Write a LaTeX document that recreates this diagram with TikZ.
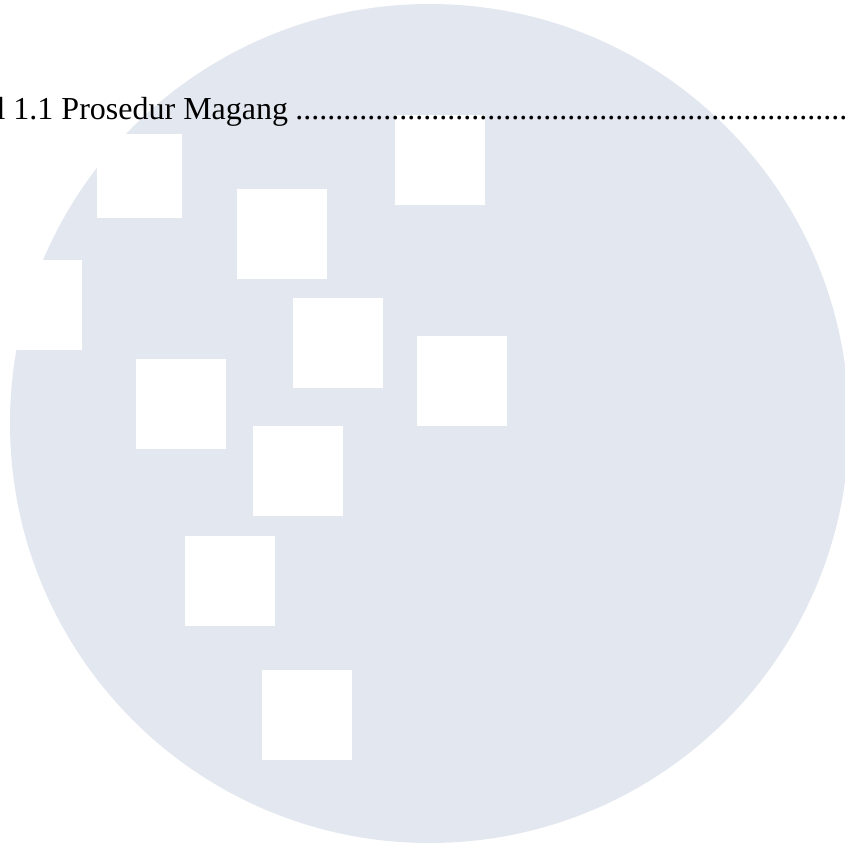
\documentclass[tikz,border=0pt]{standalone}
\usepackage{fontspec}
\setmainfont{Liberation Serif}
\definecolor{discgray}{HTML}{E3E8F0}
\tikzset{
  whitesq/.style={fill=white,draw=none},
  caption/.style={anchor=base west,inner sep=0pt,outer sep=0pt,text=black,font=\fontsize{32}{36}\selectfont}
}
\begin{document}
\begin{tikzpicture}[x=1pt,y=-1pt]
\useasboundingbox (0,0) rectangle (845,846);
\fill[white] (0,0) rectangle (845,846);
\fill[discgray] (429.5,423.5) circle[radius=419.5];
\fill[whitesq] (97,134) rectangle (181.5,218);
\fill[whitesq] (394.5,115) rectangle (485,205);
\fill[whitesq] (237,189) rectangle (327,279);
\fill[whitesq] (-9,259.5) rectangle (81.5,350);
\fill[whitesq] (293,298) rectangle (383,388);
\fill[whitesq] (417,336) rectangle (507,426);
\fill[whitesq] (136,359) rectangle (226,449);
\fill[whitesq] (253,426) rectangle (343,516);
\fill[whitesq] (185,536) rectangle (275,626);
\fill[whitesq] (262,670) rectangle (352,760);
\node[caption] (cap) at (-3.4,119) {l 1.1 Prosedur Magang\hspace{7.2pt}..........{}..........{}..........{}..........{}..........{}..........{}.........};
\end{tikzpicture}
\end{document}
